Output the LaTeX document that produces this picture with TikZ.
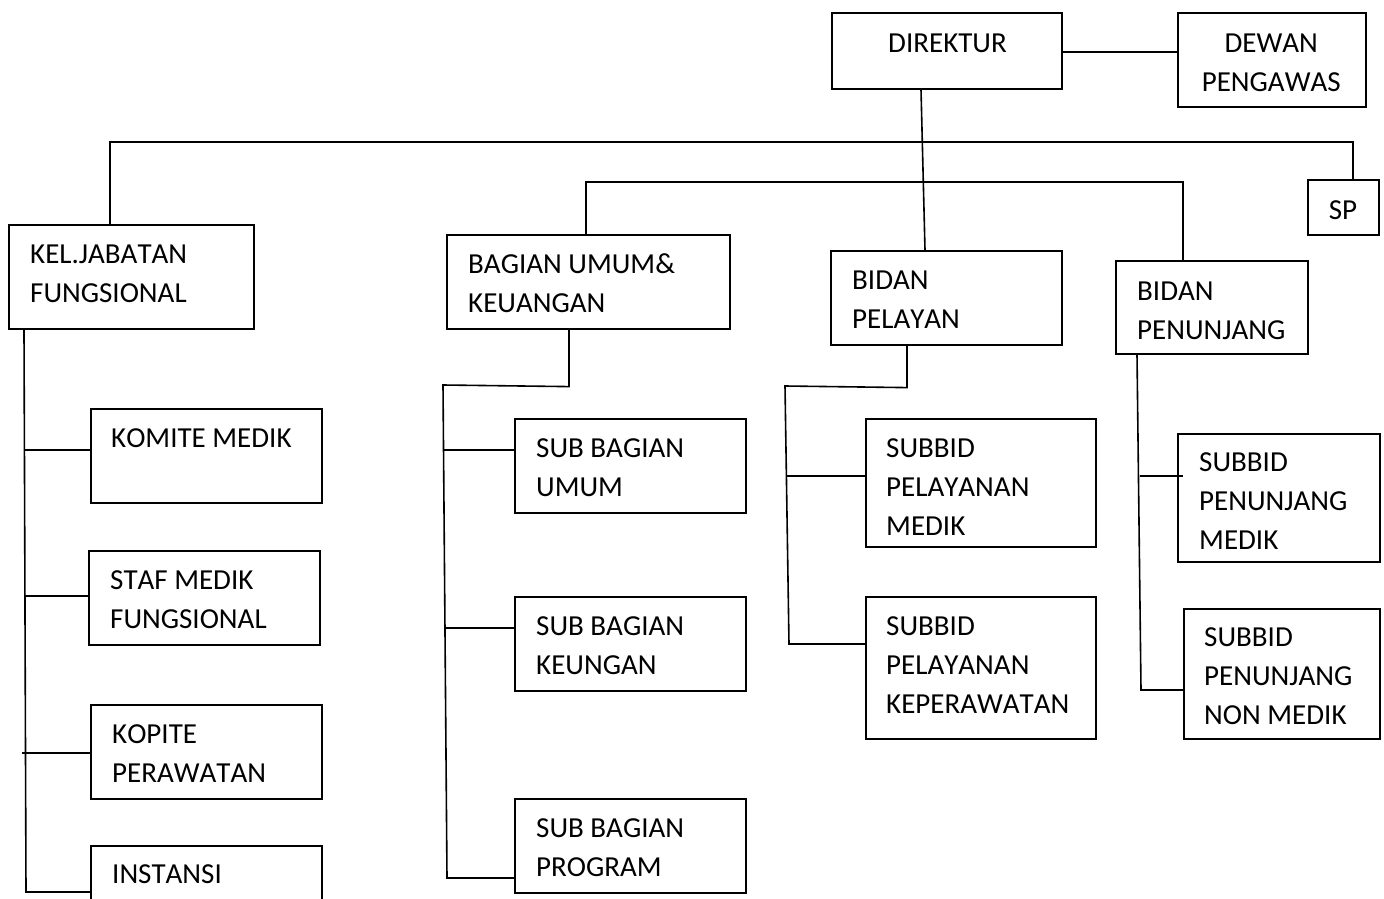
\documentclass[tikz,border=0pt]{standalone}
\usepackage{fontspec}
\setmainfont{Carlito}[Kerning=Off]
\newcommand\bx[5]{\node[box, minimum width={(#4-#2)*1pt}, minimum height={(#5-#3)*1pt}] (#1) at (#2,#3) {};}
\newcommand\Lii[2]{\vtop{\hbox{#1}\hbox{#2}}}
\newcommand\Liii[3]{\vtop{\hbox{#1}\hbox{#2}\hbox{#3}}}
\tikzset{
  box/.style={draw, line width=1.6pt, inner sep=0pt, anchor=north west},
  lbl/.style={inner sep=0pt, anchor=base west, font=\fontsize{29}{39}\selectfont},
  conn/.style={line width=1.6pt}
}
\begin{document}
\begin{tikzpicture}[x=1pt,y=-1pt]
\useasboundingbox (0,0) rectangle (1384,899);
\clip (0,0) rectangle (1384,899);
% boxes
\bx{dir}{831}{12}{1061}{88}
\bx{dew}{1177}{12}{1365}{106}
\bx{sp}{1307}{179}{1378}{234}
\bx{kel}{8}{224}{253}{328}
\bx{bag}{446}{234}{729}{328}
\bx{pel}{830}{250}{1061}{344}
\bx{pen}{1115}{260}{1307}{353}
\bx{kom}{90}{408}{321}{502}
\bx{staf}{88}{550}{319}{644}
\bx{kop}{90}{704}{321}{798}
\bx{ins}{90}{845}{321}{940}
\bx{sbu}{514}{418}{745}{512}
\bx{sbk}{514}{596}{745}{690}
\bx{sbp}{514}{798}{745}{892}
\bx{spm}{865}{418}{1095}{546}
\bx{spk}{865}{596}{1095}{738}
\bx{sjm}{1177}{433}{1379}{561}
\bx{sjn}{1183}{608}{1379}{738}
% labels
\node[lbl] (dirt) at (888,53) {DIREKTUR};
\node[lbl] (dewt) at (1201,53) {\vtop{\hbox to 140pt{\hfil DEWAN\hfil}\hbox to 140pt{\hfil PENGAWAS\hfil}}};
\node[lbl, anchor=base] (spt) at (1343,219) {SP};
\node[lbl] (kelt) at (30,263) {\Lii{KEL.JABATAN}{FUNGSIONAL}};
\node[lbl] (bagt) at (468,273) {\Lii{BAGIAN UMUM\&}{KEUANGAN}};
\node[lbl] (pelt) at (852,289) {\Lii{BIDAN}{PELAYAN}};
\node[lbl] (pent) at (1137,300) {\Lii{BIDAN}{PENUNJANG}};
\node[lbl] (komt) at (111,447) {KOMITE MEDIK};
\node[lbl] (staft) at (110,589) {\Lii{STAF MEDIK}{FUNGSIONAL}};
\node[lbl] (kopt) at (112,743) {\Lii{KOPITE}{PERAWATAN}};
\node[lbl] (inst) at (112,883) {INSTANSI};
\node[lbl] (sbut) at (536,457) {\Lii{SUB BAGIAN}{UMUM}};
\node[lbl] (sbkt) at (536,635) {\Lii{SUB BAGIAN}{KEUNGAN}};
\node[lbl] (sbpt) at (536,837) {\Lii{SUB BAGIAN}{PROGRAM}};
\node[lbl] (spmt) at (886,457) {\Liii{SUBBID}{PELAYANAN}{MEDIK}};
\node[lbl] (spkt) at (886,635) {\Liii{SUBBID}{PELAYANAN}{KEPERAWATAN}};
\node[lbl] (sjmt) at (1199,471) {\Liii{SUBBID}{PENUNJANG}{MEDIK}};
\node[lbl] (sjnt) at (1204,646) {\Liii{SUBBID}{PENUNJANG}{NON MEDIK}};
% top connectors
\draw[conn] (dir.east |- 0,52) -- (dew.west |- 0,52);
\draw[conn] ([xshift=90pt]dir.south west) -- ([xshift=95pt]pel.north west);
\draw[conn] ([xshift=102pt]kel.north west) -- ++(0,-82) -| ([xshift=46pt]sp.north west);
\draw[conn] ([xshift=140pt]bag.north west) -- ++(0,-52) -| ([xshift=68pt]pen.north west);
% left column
\coordinate (kB) at (26,892);
\draw[conn] ([xshift=16pt]kel.south west) -- (kB) -- (ins.west |- kB);
\draw[conn] (24,450) -- (kom.west |- 0,450);
\draw[conn] (24,596) -- (staf.west |- 0,596);
\draw[conn] (22,753) -- (kop.west |- 0,753);
% bagian column
\draw[conn] ([xshift=123pt]bag.south west) -- ++(0,57) -- (443,385) -- (447,878) -- (sbp.west |- 0,878);
\draw[conn] (443,450) -- (sbu.west |- 0,450);
\draw[conn] (446,628) -- (sbk.west |- 0,628);
% pelayan column
\draw[conn] ([xshift=77pt]pel.south west) -- ++(0,42) -- (785,386) -- (789,644) -- (spk.west |- 0,644);
\draw[conn] (786,476) -- (spm.west |- 0,476);
% penunjang column
\draw[conn] ([xshift=22pt]pen.south west) -- (1141,690) -- (sjn.west |- 0,690);
\draw[conn] (1140,476) -- ([xshift=6pt]sjm.west |- 0,476);
\end{tikzpicture}
\end{document}
